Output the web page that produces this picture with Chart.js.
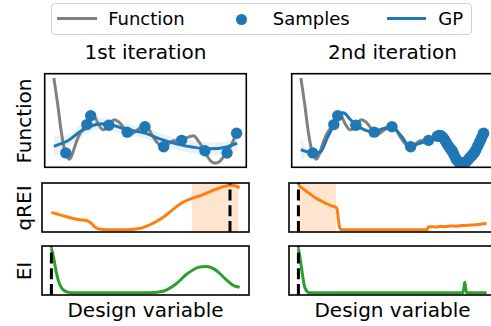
<!DOCTYPE html>
<html>
<head>
<meta charset="utf-8">
<title>Batch Bayesian optimisation: qREI and EI</title>
<script src="https://cdn.jsdelivr.net/npm/chart.js@4.4.1/dist/chart.umd.min.js"></script>
<style>
  html, body { margin:0; padding:0; background:#fff; overflow:hidden; }
  #fig { position:relative; width:491px; height:326px; overflow:hidden; background:#fff;
         font-family:"DejaVu Sans", sans-serif; color:#000; }
  #fig canvas { position:absolute; }
  .txt { position:absolute; white-space:nowrap; }
  .title, .xlab, .ylab { font-size:20px; line-height:20px; height:20px; text-align:center; }
  .ylab { transform:rotate(-90deg); transform-origin:50% 50%; }
  #legend { position:absolute; left:50.5px; top:3px; width:421.5px; height:32px; box-sizing:border-box;
            border:1.6px solid #d2d2d2; border-radius:4px; background:rgba(255,255,255,0.8); }
  .lg-text { font-size:18px; line-height:18px; top:9.8px; }
  .lg-line { position:absolute; height:3px; top:16.8px; width:39.5px; }
  .lg-dot { position:absolute; width:11.4px; height:11.4px; border-radius:50%; background:#1f77b4; left:235.6px; top:13.6px; }
</style>
</head>
<body>
<div id="fig">
  <div id="legend"></div>
  <div class="lg-line" style="left:57.3px;background:#808080;"></div>
  <div class="txt lg-text" style="left:108.2px;">Function</div>
  <div class="lg-dot"></div>
  <div class="txt lg-text" style="left:272.8px;">Samples</div>
  <div class="lg-line" style="left:386.7px;background:#1f77b4;"></div>
  <div class="txt lg-text" style="left:438.3px;">GP</div>

  <div class="txt title" style="left:45.5px;width:200px;top:42.4px;">1st iteration</div>
  <div class="txt title" style="left:292.5px;width:200px;top:42.4px;">2nd iteration</div>

  <div class="txt ylab" style="left:-25.7px;width:99px;top:110.5px;">Function</div>
  <div class="txt ylab" style="left:-0.7px;width:49px;top:197.5px;">qREI</div>
  <div class="txt ylab" style="left:-0.7px;width:49px;top:260.5px;">EI</div>

  <div class="txt xlab" style="left:45.5px;width:200px;top:300.1px;">Design variable</div>
  <div class="txt xlab" style="left:292.5px;width:200px;top:300.1px;">Design variable</div>

  <canvas id="fnA"></canvas>
  <canvas id="qreiA"></canvas>
  <canvas id="eiA"></canvas>
  <canvas id="fnB"></canvas>
  <canvas id="qreiB"></canvas>
  <canvas id="eiB"></canvas>
</div>
<script>
// ---- objective function over the (normalised) design variable ----
const fnX = [0.000, 0.021, 0.039, 0.057, 0.065, 0.072, 0.085, 0.100, 0.115, 0.136, 0.158, 0.180,
             0.201, 0.214, 0.242, 0.268, 0.285, 0.300, 0.330, 0.356, 0.383, 0.400, 0.418, 0.444,
             0.470, 0.497, 0.520, 0.541, 0.577, 0.599, 0.625, 0.650, 0.697, 0.726, 0.762, 0.788,
             0.810, 0.824, 0.843, 0.868, 0.885, 0.905, 0.925, 0.945, 0.965, 0.985, 1.000];
const fnY = [1.00, 0.69, 0.39, 0.17, 0.119, 0.08, 0.045, 0.10, 0.20, 0.32, 0.40, 0.452,
             0.556, 0.566, 0.46, 0.39, 0.405, 0.444, 0.51, 0.48, 0.41, 0.363, 0.335, 0.37,
             0.41, 0.426, 0.39, 0.31, 0.21, 0.192, 0.225, 0.262, 0.267, 0.30, 0.322, 0.26,
             0.19, 0.145, 0.06, 0.005, 0.0, 0.02, 0.07, 0.117, 0.20, 0.29, 0.36];

// ---- initial design (1st iteration) ----
const sampleX1 = [0.065, 0.180, 0.201, 0.300, 0.400, 0.497, 0.599, 0.697, 0.824, 0.945, 0.997];
const sampleY1 = [0.119, 0.452, 0.556, 0.444, 0.363, 0.426, 0.192, 0.267, 0.145, 0.117, 0.35];

// ---- batch proposed by qREI, evaluated before the 2nd iteration ----
const batchX = [0.745, 0.755, 0.765, 0.775, 0.785, 0.795, 0.805, 0.815, 0.825, 0.835, 0.845, 0.855, 0.865,
                0.875, 0.885, 0.895, 0.905, 0.915, 0.925, 0.935, 0.945, 0.955, 0.965, 0.975, 0.985, 0.995];
const batchY = [0.315, 0.325, 0.32, 0.30, 0.27, 0.235, 0.20, 0.17, 0.145, 0.10, 0.055, 0.025, 0.008,
                0.0, 0.0, 0.008, 0.02, 0.045, 0.07, 0.093, 0.117, 0.155, 0.20, 0.245, 0.29, 0.34];

// ---- GP posterior, 1st iteration ----
const gpX1    = [0.000, 0.074, 0.144, 0.215, 0.259, 0.321, 0.392, 0.497, 0.586, 0.674, 0.762, 0.850, 0.938, 1.000];
const gpMean1 = [0.197, 0.259, 0.370, 0.444, 0.463, 0.444, 0.397, 0.352, 0.278, 0.222, 0.186, 0.167, 0.186, 0.233];
const gpStd1  = [0.12, 0.07, 0.075, 0.065, 0.07, 0.07, 0.065, 0.065, 0.07, 0.07, 0.075, 0.075, 0.07, 0.08];

// ---- GP posterior, 2nd iteration ----
const gpX2    = [0.000, 0.065, 0.107, 0.143, 0.180, 0.201, 0.232, 0.266, 0.300, 0.354, 0.400, 0.443, 0.497, 0.549,
                 0.599, 0.640, 0.697, 0.745, 0.775, 0.800, 0.825, 0.850, 0.875, 0.900, 0.925, 0.950, 0.975, 1.000];
const gpMean2 = [0.156, 0.119, 0.13, 0.29, 0.452, 0.556, 0.59, 0.52, 0.444, 0.385, 0.363, 0.40, 0.426, 0.314,
                 0.192, 0.225, 0.267, 0.315, 0.30, 0.22, 0.145, 0.04, 0.0, 0.01, 0.07, 0.135, 0.245, 0.36];
const gpStd2  = [0.13, 0.0, 0.03, 0.025, 0.0, 0.0, 0.02, 0.02, 0.0, 0.02, 0.0, 0.02, 0.0, 0.025,
                 0.0, 0.02, 0.0, 0, 0, 0, 0, 0, 0, 0, 0, 0, 0, 0];

// ---- acquisition functions (normalised) ----
const qreiX1 = [0.000, 0.050, 0.100, 0.150, 0.197, 0.215, 0.235, 0.260, 0.300, 0.400, 0.450, 0.500,
                0.550, 0.600, 0.650, 0.700, 0.744, 0.800, 0.850, 0.900, 0.949, 0.975, 1.000];
const qreiY1 = [0.39, 0.33, 0.27, 0.225, 0.19, 0.13, 0.05, 0.01, 0.0, 0.0, 0.015, 0.07,
                0.17, 0.30, 0.47, 0.62, 0.70, 0.78, 0.87, 0.95, 1.0, 0.99, 0.94];
const eiX1 = [0.000, 0.012, 0.028, 0.045, 0.062, 0.085, 0.110, 0.500, 0.560, 0.610, 0.660, 0.720,
              0.780, 0.825, 0.870, 0.920, 0.965, 1.000];
const eiY1 = [1.0, 0.78, 0.42, 0.18, 0.07, 0.015, 0.0, 0.0, 0.01, 0.06, 0.19, 0.42,
              0.57, 0.59, 0.52, 0.33, 0.17, 0.12];

const qreiX2 = [0.000, 0.040, 0.090, 0.143, 0.180, 0.205, 0.212, 0.220, 0.230, 0.400, 0.600, 0.684,
                0.690, 0.710, 0.730, 0.750, 0.780, 0.810, 0.840, 0.870, 0.900, 0.930, 0.960, 0.990, 1.000];
const qreiY2 = [1.0, 0.87, 0.72, 0.60, 0.53, 0.48, 0.25, 0.04, 0.0, 0.0, 0.0, 0.0,
                0.065, 0.07, 0.06, 0.075, 0.07, 0.085, 0.08, 0.095, 0.10, 0.11, 0.12, 0.14, 0.145];
const eiX2 = [0.000, 0.010, 0.020, 0.032, 0.045, 0.060, 0.874, 0.880, 0.884, 0.888, 0.894, 1.000];
const eiY2 = [1.0, 0.75, 0.45, 0.15, 0.03, 0.0, 0.0, 0.12, 0.236, 0.12, 0.0, 0.0];

// selected points and qREI batch regions
const qreiPick = [0.949, 0.0];
const eiPick   = [0.0, 0.0];
const batchSpan = [[0.745, 0.995], [0.0, 0.2]];

// ---- layout of the 3x2 grid of axes ----
const PAD = 3;
const AX_W = 207;
const COLS = [42, 289];
const ROWS = [[71, 99], [183, 49], [246, 49]];

const GREY = '#808080', BLUE = '#1f77b4', ORANGE = '#ff7f0e', GREEN = '#2ca02c';
const LIM = { min: -0.05, max: 1.05 };

const pts = (xs, ys) => xs.map((x, i) => ({ x, y: ys[i] }));

const framePlugin = {
  id: 'frame',
  afterDraw(chart) {
    const { ctx, chartArea: a } = chart;
    ctx.save();
    ctx.lineWidth = 1.6;
    ctx.strokeStyle = '#000';
    ctx.strokeRect(a.left, a.top, a.right - a.left, a.bottom - a.top);
    ctx.restore();
  }
};

function panel(id, col, row, datasets) {
  const cv = document.getElementById(id);
  const [top, h] = ROWS[row];
  const left = COLS[col];
  cv.width = AX_W + 2 * PAD;
  cv.height = h + 2 * PAD;
  cv.style.left = (left - PAD) + 'px';
  cv.style.top = (top - PAD) + 'px';
  cv.style.width = cv.width + 'px';
  cv.style.height = cv.height + 'px';
  return new Chart(cv, {
    type: 'line',
    data: { datasets },
    options: {
      responsive: false, animation: false, events: [], devicePixelRatio: 1,
      layout: { padding: PAD },
      plugins: { legend: { display: false }, tooltip: { enabled: false } },
      scales: {
        x: { type: 'linear', ...LIM, display: false },
        y: { type: 'linear', ...LIM, display: false }
      },
      elements: { point: { radius: 0, hoverRadius: 0 }, line: { borderCapStyle: 'butt', borderJoinStyle: 'round' } }
    },
    plugins: [framePlugin]
  });
}

const curve = (xs, ys, color, order) => ({
  data: pts(xs, ys), borderColor: color, borderWidth: 3, pointRadius: 0, fill: false,
  cubicInterpolationMode: 'monotone', order
});
const samples = (xs, ys, order) => ({
  data: pts(xs, ys), showLine: false, pointRadius: 5.7, pointBorderWidth: 0,
  pointBackgroundColor: BLUE, borderColor: BLUE, backgroundColor: BLUE, fill: false, order
});
const band = (xs, m, s, order) => [
  { data: pts(xs, m.map((v, i) => v + s[i])), borderWidth: 0, borderColor: 'rgba(0,0,0,0)', pointRadius: 0,
    fill: '+1', backgroundColor: 'rgba(31,119,180,0.1)', cubicInterpolationMode: 'monotone', order },
  { data: pts(xs, m.map((v, i) => v - s[i])), borderWidth: 0, borderColor: 'rgba(0,0,0,0)', pointRadius: 0,
    fill: false, cubicInterpolationMode: 'monotone', order }
];
const vline = (x, order) => ({
  data: [{ x, y: LIM.min }, { x, y: LIM.max }], borderColor: '#000', borderWidth: 3,
  borderDash: [11, 4.8], pointRadius: 0, fill: false, tension: 0, order
});
const span = ([a, b], order) => ({
  data: [{ x: a, y: LIM.max }, { x: b, y: LIM.max }], borderWidth: 0, borderColor: 'rgba(0,0,0,0)',
  pointRadius: 0, fill: 'start', backgroundColor: 'rgba(255,127,14,0.2)', tension: 0, order
});

// 1st iteration
panel('fnA', 0, 0, [
  ...band(gpX1, gpMean1, gpStd1, 4),
  curve(fnX, fnY, GREY, 3),
  curve(gpX1, gpMean1, BLUE, 2),
  samples(sampleX1, sampleY1, 1)
]);
panel('qreiA', 0, 1, [span(batchSpan[0], 3), curve(qreiX1, qreiY1, ORANGE, 2), vline(qreiPick[0], 1)]);
panel('eiA', 0, 2, [curve(eiX1, eiY1, GREEN, 2), vline(eiPick[0], 1)]);

// 2nd iteration: initial design plus the qREI batch
panel('fnB', 1, 0, [
  ...band(gpX2, gpMean2, gpStd2, 4),
  curve(fnX, fnY, GREY, 3),
  curve(gpX2, gpMean2, BLUE, 2),
  samples(sampleX1.concat(batchX), sampleY1.concat(batchY), 1)
]);
panel('qreiB', 1, 1, [span(batchSpan[1], 3), curve(qreiX2, qreiY2, ORANGE, 2), vline(qreiPick[1], 1)]);
panel('eiB', 1, 2, [curve(eiX2, eiY2, GREEN, 2), vline(eiPick[1], 1)]);
</script>
</body>
</html>
